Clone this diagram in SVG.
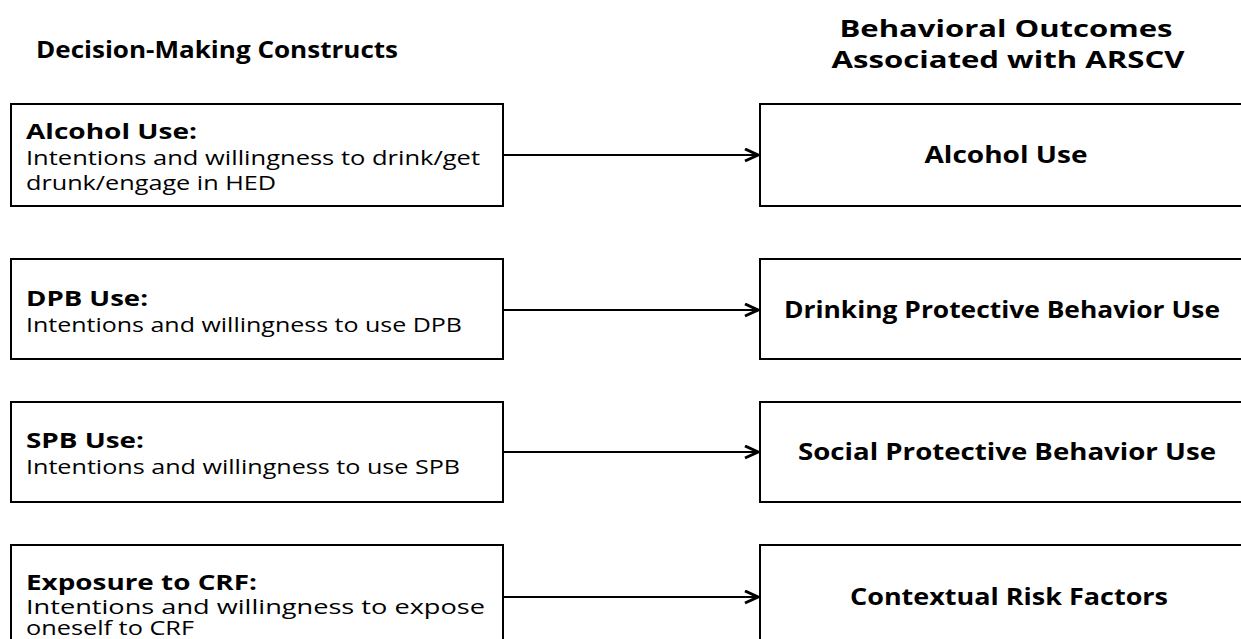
<svg xmlns="http://www.w3.org/2000/svg" width="1241" height="639" viewBox="0 0 1241 639">
<style>
.box{fill:#fff;stroke:#000;stroke-width:2}
.t{font-family:"Open Sans","Noto Sans",sans-serif;font-size:20px;fill:#000}
.b{font-weight:bold;font-size:21px}
.h{font-family:"Open Sans","Noto Sans",sans-serif;font-size:23px;font-weight:bold;fill:#000}
.c{text-anchor:middle}
.line{stroke:#000;stroke-width:1.8;fill:none}
</style>
<defs>
<marker id="arr" markerWidth="16" markerHeight="16" refX="14" refY="7" orient="auto" markerUnits="userSpaceOnUse">
<path d="M1,1 L14,7 L1,13" fill="none" stroke="#000" stroke-width="3"/>
</marker>
</defs>
<rect width="1241" height="639" fill="#fff"/>
<g id="headers">
<text class="h" x="36" y="58" textLength="362" lengthAdjust="spacingAndGlyphs">Decision-Making Constructs</text>
<text class="h c" x="1006" y="37" textLength="333" lengthAdjust="spacingAndGlyphs">Behavioral Outcomes</text>
<text class="h c" x="1008" y="68" textLength="353" lengthAdjust="spacingAndGlyphs">Associated with ARSCV</text>
</g>
<g id="connectors">
<line class="line" x1="503" y1="155" x2="758" y2="155" marker-end="url(#arr)"/>
<line class="line" x1="503" y1="310" x2="758" y2="310" marker-end="url(#arr)"/>
<line class="line" x1="503" y1="452" x2="758" y2="452" marker-end="url(#arr)"/>
<line class="line" x1="503" y1="597" x2="758" y2="597" marker-end="url(#arr)"/>
</g>
<g id="left1">
<rect class="box" x="11" y="104" width="492" height="102"/>
<text class="t b" x="26" y="139" textLength="171" lengthAdjust="spacingAndGlyphs">Alcohol Use:</text>
<text class="t" x="26" y="165" textLength="454" lengthAdjust="spacingAndGlyphs">Intentions and willingness to drink/get</text>
<text class="t" x="26" y="190" textLength="250" lengthAdjust="spacingAndGlyphs">drunk/engage in HED</text>
</g>
<g id="left2">
<rect class="box" x="11" y="259" width="492" height="100"/>
<text class="t b" x="26" y="306" textLength="122" lengthAdjust="spacingAndGlyphs">DPB Use:</text>
<text class="t" x="26" y="332" textLength="436" lengthAdjust="spacingAndGlyphs">Intentions and willingness to use DPB</text>
</g>
<g id="left3">
<rect class="box" x="11" y="402" width="492" height="100"/>
<text class="t b" x="26" y="448" textLength="118" lengthAdjust="spacingAndGlyphs">SPB Use:</text>
<text class="t" x="26" y="474" textLength="434" lengthAdjust="spacingAndGlyphs">Intentions and willingness to use SPB</text>
</g>
<g id="left4">
<rect class="box" x="11" y="545" width="492" height="102"/>
<text class="t b" x="26" y="590" textLength="231" lengthAdjust="spacingAndGlyphs">Exposure to CRF:</text>
<text class="t" x="26" y="614" textLength="459" lengthAdjust="spacingAndGlyphs">Intentions and willingness to expose</text>
<text class="t" x="26" y="635" textLength="168" lengthAdjust="spacingAndGlyphs">oneself to CRF</text>
</g>
<g id="right1">
<rect class="box" x="760" y="104" width="500" height="102"/>
<text class="h c" x="1006" y="163" textLength="163" lengthAdjust="spacingAndGlyphs">Alcohol Use</text>
</g>
<g id="right2">
<rect class="box" x="760" y="259" width="500" height="100"/>
<text class="h c" x="1002" y="318" textLength="436" lengthAdjust="spacingAndGlyphs">Drinking Protective Behavior Use</text>
</g>
<g id="right3">
<rect class="box" x="760" y="402" width="500" height="100"/>
<text class="h c" x="1007" y="460" textLength="418" lengthAdjust="spacingAndGlyphs">Social Protective Behavior Use</text>
</g>
<g id="right4">
<rect class="box" x="760" y="545" width="500" height="102"/>
<text class="h c" x="1009" y="605" textLength="318" lengthAdjust="spacingAndGlyphs">Contextual Risk Factors</text>
</g>
</svg>
